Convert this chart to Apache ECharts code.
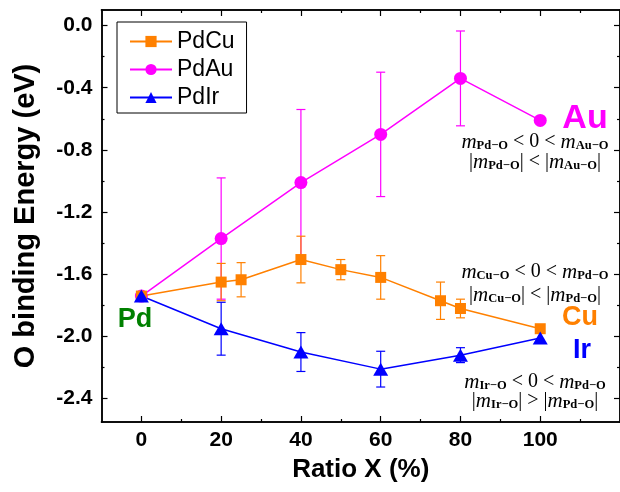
<!DOCTYPE html>
<html>
<head>
<meta charset="utf-8">
<script src="https://cdn.jsdelivr.net/npm/echarts@6/dist/echarts.min.js"></script>
<style>
html,body{margin:0;padding:0;background:#fff;}
#chart{width:620px;height:492px;}
</style>
</head>
<body>
<div id="chart"></div>
<script>
var cuX = [0, 20, 25, 40, 50, 60, 75, 80, 100];
var cuY = [-1.74, -1.65, -1.635, -1.505, -1.57, -1.62, -1.77, -1.82, -1.95];
var cuErr = [0, 0.12, 0.11, 0.15, 0.065, 0.14, 0.12, 0.06, 0];

var auX = [0, 20, 40, 60, 80, 100];
var auY = [-1.74, -1.37, -1.01, -0.70, -0.34, -0.61];
var auErr = [0, 0.39, 0.47, 0.40, 0.305, 0];

var irX = [0, 20, 40, 60, 80, 100];
var irY = [-1.74, -1.95, -2.10, -2.21, -2.12, -2.01];
var irErr = [0, 0.17, 0.125, 0.115, 0.048, 0];

var xMajor = [0, 20, 40, 60, 80, 100];
var xMinor = [10, 30, 50, 70, 90, 110];
var yMajor = [0, -0.4, -0.8, -1.2, -1.6, -2.0, -2.4];
var yMinor = [-0.2, -0.6, -1.0, -1.4, -1.8, -2.2];

var ORANGE = '#FF8000', MAGENTA = '#FF00FF', BLUE = '#0000FF', GREEN = '#008000';

var chart = echarts.init(document.getElementById('chart'));

function pairs(xs, ys) {
    return xs.map(function (x, i) { return [x, ys[i]]; });
}
function errData(xs, ys, es) {
    var out = [];
    xs.forEach(function (x, i) {
        if (es[i] > 0) out.push([x, ys[i] - es[i], ys[i] + es[i]]);
    });
    return out;
}
function errSeries(name, color, data) {
    return {
        type: 'custom',
        name: name + '_err',
        data: data,
        z: 1,
        silent: true,
        renderItem: function (params, api) {
            var x = api.value(0);
            var top = api.coord([x, api.value(2)]);
            var bot = api.coord([x, api.value(1)]);
            var w = 4.5;
            var st = { stroke: color, lineWidth: 1.2 };
            return {
                type: 'group',
                children: [
                    { type: 'line', shape: { x1: top[0], y1: top[1], x2: bot[0], y2: bot[1] }, style: st },
                    { type: 'line', shape: { x1: top[0] - w, y1: top[1], x2: top[0] + w, y2: top[1] }, style: st },
                    { type: 'line', shape: { x1: bot[0] - w, y1: bot[1], x2: bot[0] + w, y2: bot[1] }, style: st }
                ]
            };
        }
    };
}

var axisLine = { show: true, onZero: false, lineStyle: { color: '#000', width: 1.5 } };
function xAx(pos, vals, len, labels) {
    return {
        type: 'value', position: pos, min: -10, max: 120,
        axisLine: axisLine,
        splitLine: { show: false },
        axisTick: { show: true, inside: true, length: len, customValues: vals, lineStyle: { color: '#000', width: 1.2 } },
        axisLabel: labels ? {
            show: true, customValues: vals, margin: 8,
            fontFamily: 'Liberation Sans', fontWeight: 'bold', fontSize: 21, color: '#000'
        } : { show: false },
        name: labels ? 'Ratio X (%)' : '',
        nameLocation: 'middle', nameGap: 35,
        nameTextStyle: { fontFamily: 'Liberation Sans', fontWeight: 'bold', fontSize: 26, color: '#000' }
    };
}
function yAx(pos, vals, len, labels) {
    return {
        type: 'value', position: pos, min: -2.55, max: 0.1,
        axisLine: axisLine,
        splitLine: { show: false },
        axisTick: { show: true, inside: true, length: len, customValues: vals, lineStyle: { color: '#000', width: 1.2 } },
        axisLabel: labels ? {
            show: true, customValues: vals, margin: 9,
            fontFamily: 'Liberation Sans', fontWeight: 'bold', fontSize: 21, color: '#000',
            formatter: function (v) { return v.toFixed(1); }
        } : { show: false },
        name: labels ? 'O binding Energy (eV)' : '',
        nameLocation: 'middle', nameGap: 61,
        nameTextStyle: { fontFamily: 'Liberation Sans', fontWeight: 'bold', fontSize: 29, color: '#000' }
    };
}

var mathRich = {
    m: { fontFamily: 'Liberation Serif', fontStyle: 'italic', fontSize: 21, fill: '#000' },
    s: { fontFamily: 'Liberation Serif', fontWeight: 'bold', fontSize: 12.5, fill: '#000', verticalAlign: 'bottom' },
    t: { fontFamily: 'Liberation Serif', fontSize: 20, fill: '#000' }
};
function mathText(x, y, txt) {
    return {
        type: 'text', x: x, y: y, z: 10,
        style: { text: txt, rich: mathRich, align: 'center', verticalAlign: 'middle' }
    };
}
function bigText(x, y, txt, color, size) {
    return {
        type: 'text', x: x, y: y, z: 10,
        style: {
            text: txt, fill: color, align: 'center', verticalAlign: 'middle',
            font: 'bold ' + size + 'px "Liberation Sans"'
        }
    };
}

var lineBase = { type: 'line', xAxisIndex: 0, yAxisIndex: 0, z: 3, lineStyle: { width: 1.5 } };

chart.setOption({
    animation: false,
    backgroundColor: '#fff',
    grid: { left: 101.5, top: 10, width: 522, height: 412, containLabel: false },
    xAxis: [
        xAx('bottom', xMajor, 6, true),
        xAx('bottom', xMinor, 3, false),
        xAx('top', xMajor, 6, false),
        xAx('top', xMinor, 3, false)
    ],
    yAxis: [
        yAx('left', yMajor, 6, true),
        yAx('left', yMinor, 3, false),
        yAx('right', yMajor, 6, false),
        yAx('right', yMinor, 3, false)
    ],
    legend: {
        data: ['PdCu', 'PdAu', 'PdIr'],
        orient: 'vertical', left: 117, top: 22,
        borderColor: '#000', borderWidth: 1, borderRadius: 0,
        padding: [8, 12, 4, 12],
        itemWidth: 42, itemHeight: 14, itemGap: 5,
        textStyle: { fontFamily: 'Liberation Sans', fontSize: 23, color: '#000' }
    },
    series: [
        errSeries('PdAu', MAGENTA, errData(auX, auY, auErr)),
        errSeries('PdCu', ORANGE, errData(cuX, cuY, cuErr)),
        errSeries('PdIr', BLUE, errData(irX, irY, irErr)),
        Object.assign({}, lineBase, {
            name: 'PdAu', data: pairs(auX, auY), symbol: 'circle', symbolSize: 13,
            itemStyle: { color: MAGENTA }, lineStyle: { color: MAGENTA, width: 1.5 }
        }),
        Object.assign({}, lineBase, {
            name: 'PdCu', data: pairs(cuX, cuY), symbol: 'rect', symbolSize: 11,
            itemStyle: { color: ORANGE }, lineStyle: { color: ORANGE, width: 1.5 }
        }),
        Object.assign({}, lineBase, {
            name: 'PdIr', data: pairs(irX, irY), symbol: 'triangle', symbolSize: [15, 13],
            itemStyle: { color: BLUE }, lineStyle: { color: BLUE, width: 1.5 }
        })
    ],
    graphic: [
        bigText(135, 320, 'Pd', GREEN, 27),
        bigText(585, 119, 'Au', MAGENTA, 34),
        bigText(580, 318, 'Cu', ORANGE, 27),
        bigText(582, 351, 'Ir', BLUE, 27),
        mathText(535, 142, '{m|m}{s|Pd\u2212O}{t| < 0 < }{m|m}{s|Au\u2212O}'),
        mathText(535, 162, '{t||}{m|m}{s|Pd\u2212O}{t|| < |}{m|m}{s|Au\u2212O}{t||}'),
        mathText(535, 272, '{m|m}{s|Cu\u2212O}{t| < 0 < }{m|m}{s|Pd\u2212O}'),
        mathText(535, 295, '{t||}{m|m}{s|Cu\u2212O}{t|| < |}{m|m}{s|Pd\u2212O}{t||}'),
        mathText(535, 382, '{m|m}{s|Ir\u2212O}{t| < 0 < }{m|m}{s|Pd\u2212O}'),
        mathText(535, 401, '{t||}{m|m}{s|Ir\u2212O}{t|| > |}{m|m}{s|Pd\u2212O}{t||}')
    ]
});
</script>
</body>
</html>
